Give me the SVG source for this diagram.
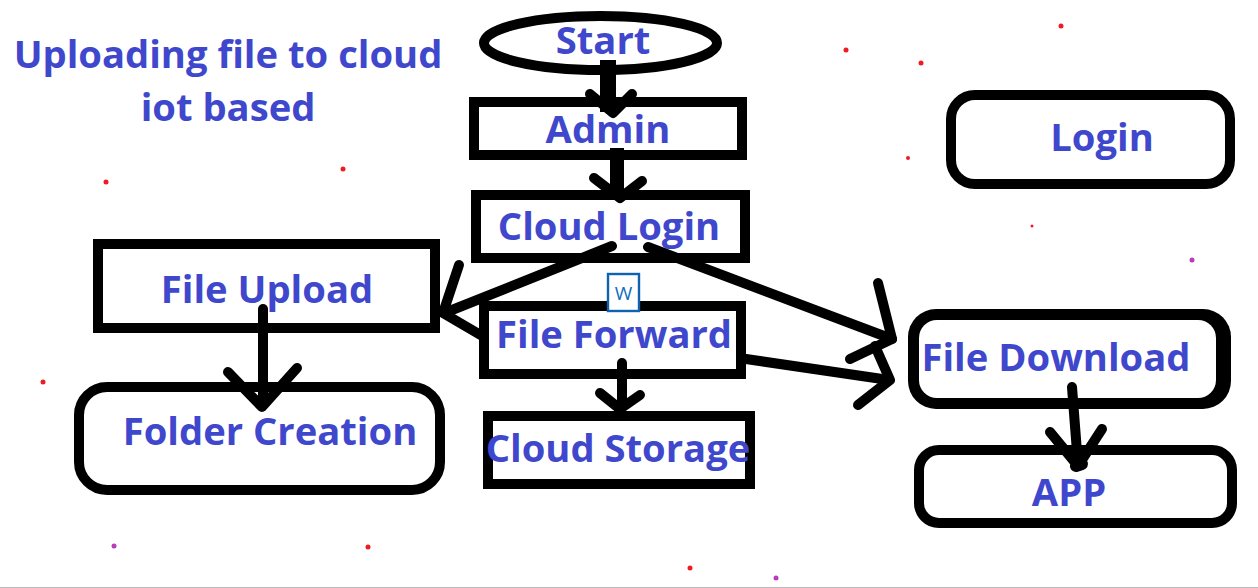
<svg xmlns="http://www.w3.org/2000/svg" width="1258" height="588" viewBox="0 0 1258 588">
<style>
.n{fill:#fff;stroke:#000;stroke-width:10}
.t{font-family:"Open Sans","Noto Sans","Liberation Sans",sans-serif;font-weight:700;fill:#3f48cc;font-size:38.2px;text-anchor:middle}
.c path{fill:none;stroke:#000;stroke-width:10;stroke-linecap:round;stroke-linejoin:round}
.r{fill:#ed1c24}.p{fill:#b83dba}
</style>
<rect width="1258" height="588" fill="#fff"/>
<rect y="587" width="1258" height="1" fill="#bbb"/>
<g id="specks">
<circle class="r" cx="1061" cy="26" r="2.5"/><circle class="r" cx="846" cy="50" r="2.5"/><circle class="r" cx="921" cy="63" r="2.5"/><circle class="r" cx="106" cy="182" r="2.5"/><circle class="r" cx="343" cy="169" r="2.5"/><circle class="r" cx="43" cy="382" r="2.5"/><circle class="r" cx="368" cy="547" r="2.5"/><circle class="r" cx="690" cy="568" r="2.5"/><circle class="r" cx="908" cy="158" r="2"/><circle class="r" cx="1032" cy="226" r="1.5"/>
<circle class="p" cx="1192" cy="260" r="2.5"/><circle class="p" cx="114" cy="546" r="2.5"/><circle class="p" cx="776" cy="578" r="2.5"/>
</g>
<g id="title"><text class="t" x="228" y="68">Uploading file to cloud</text><text class="t" x="228" y="121">iot based</text></g>
<g id="start"><ellipse class="n" cx="600.5" cy="43" rx="116.5" ry="27"/><text class="t" x="603" y="54">Start</text></g>
<g id="admin"><rect class="n" x="474" y="102" width="268" height="53"/><text class="t" x="608" y="143">Admin</text></g>
<g id="cloud-login"><rect class="n" x="476" y="195" width="269" height="63"/><text class="t" x="609" y="240">Cloud Login</text></g>
<g id="file-upload"><rect class="n" x="98" y="244" width="337" height="84"/><text class="t" x="267" y="303">File Upload</text></g>
<g id="file-forward"><rect class="n" x="484" y="306" width="257" height="68"/><text class="t" x="614" y="348">File Forward</text></g>
<g id="cloud-storage"><rect class="n" x="488" y="416" width="262" height="68"/><text class="t" x="618" y="462">Cloud Storage</text></g>
<g id="folder-creation"><rect class="n" x="79" y="387" width="361" height="103" rx="28"/><text class="t" x="270" y="445">Folder Creation</text></g>
<g id="login"><rect class="n" x="951" y="95" width="279" height="89" rx="24"/><text class="t" x="1102" y="151">Login</text></g>
<g id="file-download"><rect x="908" y="309" width="323" height="100" rx="28" fill="#000"/><rect x="919" y="320" width="297" height="78" rx="18" fill="#fff"/><text class="t" x="1056" y="371">File Download</text></g>
<g id="app"><rect class="n" x="919" y="450" width="313" height="73" rx="20"/><text class="t" x="1069" y="506">APP</text></g>
<g id="connectors" class="c">
<path d="M608 60V112" style="stroke-width:16;stroke-linecap:butt"/>
<path d="M590 94L613 113L632 94"/>
<path d="M617 148V196" style="stroke-width:14;stroke-linecap:butt"/>
<path d="M594 178L620 198L642 181"/>
<path d="M612 246L452 310"/><path d="M459 265L443 313L484 337"/>
<path d="M263 309V405"/><path d="M228 372L262 407L297 368"/>
<path d="M622 363V405"/><path d="M600 393L620 409L640 395"/>
<path d="M648 247L892 339"/><path d="M878 283L892 339L850 359"/>
<path d="M746 359L889 380"/><path d="M875 346L890 380L858 405"/>
<path d="M1072 387L1078 465"/><path d="M1050 432L1078 466L1102 429"/><path d="M1076 466L1082 464" style="stroke-width:12"/>
</g>
<g id="w-badge"><rect x="608" y="274" width="31" height="37" fill="#fff" stroke="#0f62ae" stroke-width="2.4"/><text x="623.500" y="300" font-family="'Open Sans','Liberation Sans',sans-serif" font-size="19" fill="#0f6cbd" text-anchor="middle">W</text></g>
</svg>
